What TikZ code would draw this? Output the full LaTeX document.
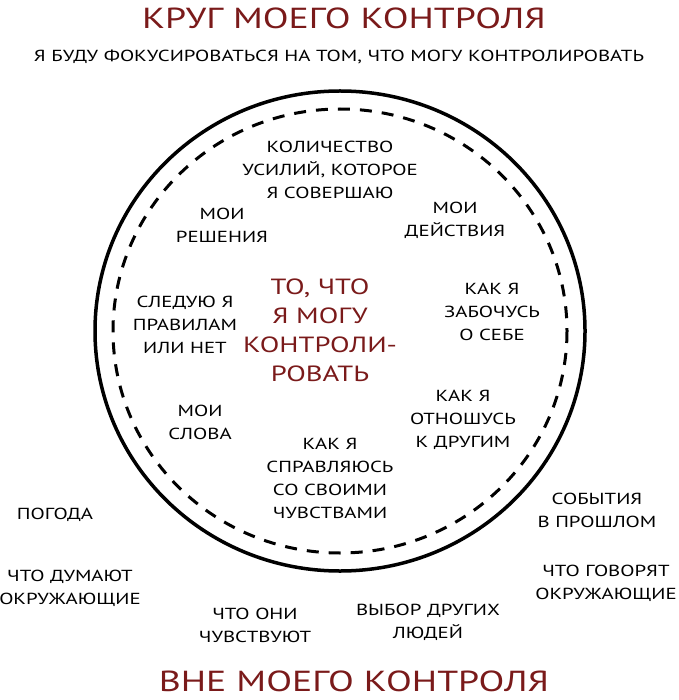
\documentclass[tikz,border=0pt]{standalone}
\usepackage{fontspec}
\setmainfont{PT Sans}[FakeStretch=1.3]
\definecolor{dred}{HTML}{7A1A1A}
\begin{document}
\begin{tikzpicture}[x=1pt,y=-1pt,
  lbl/.style={align=center,font=\fontsize{16}{23}\selectfont,inner sep=0pt},
  ttl/.style={text=dred,font=\fontsize{29}{32}\selectfont,inner sep=0pt}]
\useasboundingbox (0,0) rectangle (678,700);
\node[ttl] (t1) at (344,18) {КРУГ МОЕГО КОНТРОЛЯ};
\node[lbl] (t2) at (339,57) {Я БУДУ ФОКУСИРОВАТЬСЯ НА ТОМ, ЧТО МОГУ КОНТРОЛИРОВАТЬ};
\node[ttl] (t3) at (354,681) {ВНЕ МОЕГО КОНТРОЛЯ};
\draw[line width=3.5pt] (340,331) ellipse [x radius=245, y radius=240];
\draw[line width=3pt,dash pattern=on 12pt off 10pt] (340,331) ellipse [x radius=227, y radius=222];
\node[lbl] (a) at (330,170) {КОЛИЧЕСТВО\\УСИЛИЙ, КОТОРОЕ\\Я СОВЕРШАЮ};
\node[lbl] (b) at (222,225) {МОИ\\РЕШЕНИЯ};
\node[lbl] (c) at (455,220) {МОИ\\ДЕЙСТВИЯ};
\node[lbl,text=dred,font=\fontsize{22}{29}\selectfont] (d) at (320,330) {ТО, ЧТО\\Я МОГУ\\КОНТРОЛИ-\\РОВАТЬ};
\node[lbl] (e) at (185,325) {СЛЕДУЮ Я\\ПРАВИЛАМ\\ИЛИ НЕТ};
\node[lbl] (f) at (492,312) {КАК Я\\ЗАБОЧУСЬ\\О СЕБЕ};
\node[lbl] (g) at (463,420) {КАК Я\\ОТНОШУСЬ\\К ДРУГИМ};
\node[lbl] (h) at (200,422) {МОИ\\СЛОВА};
\node[lbl] (i) at (330,478) {КАК Я\\СПРАВЛЯЮСЬ\\СО СВОИМИ\\ЧУВСТВАМИ};
\node[lbl] (j) at (55,515) {ПОГОДА};
\node[lbl] (k) at (597,510) {СОБЫТИЯ\\В ПРОШЛОМ};
\node[lbl] (l) at (70,588) {ЧТО ДУМАЮТ\\ОКРУЖАЮЩИЕ};
\node[lbl] (m) at (606,583) {ЧТО ГОВОРЯТ\\ОКРУЖАЮЩИЕ};
\node[lbl] (n) at (255,625) {ЧТО ОНИ\\ЧУВСТВУЮТ};
\node[lbl] (o) at (428,622) {ВЫБОР ДРУГИХ\\ЛЮДЕЙ};
\end{tikzpicture}
\end{document}
